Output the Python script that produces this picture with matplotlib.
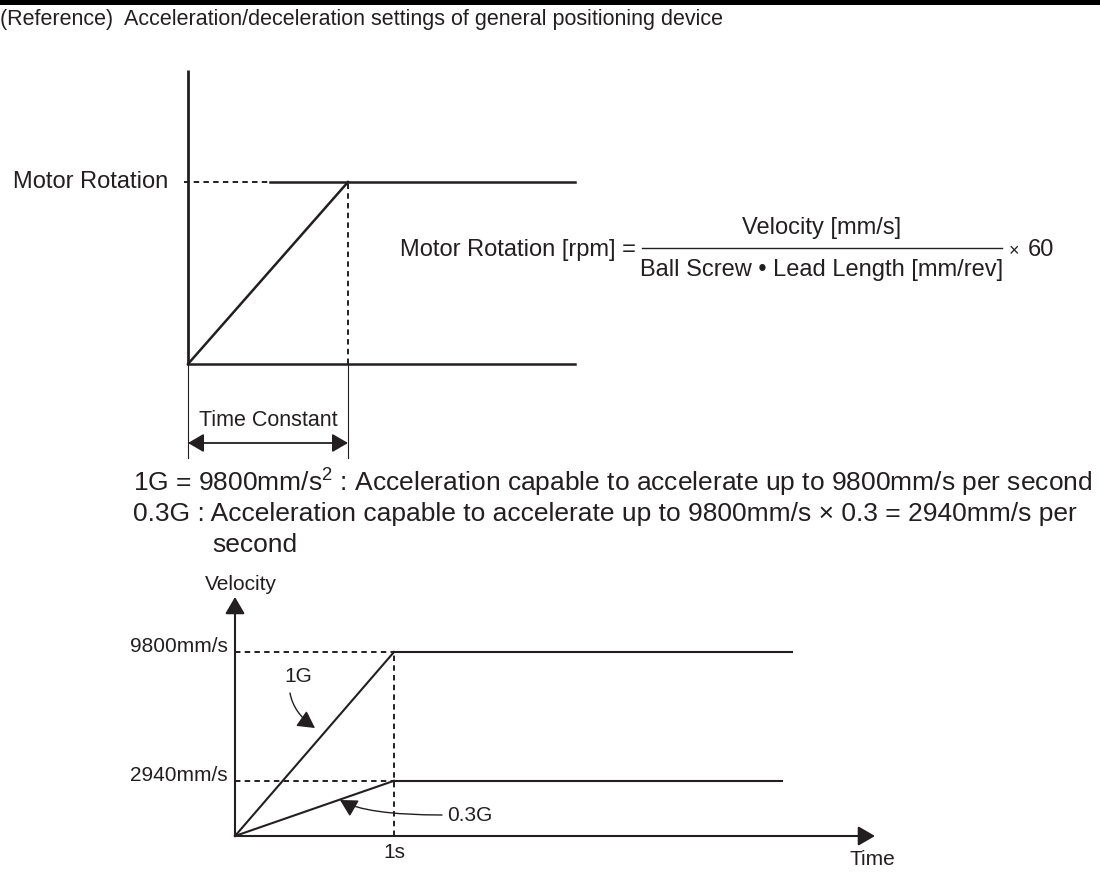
import matplotlib.pyplot as plt


plt.rcParams['font.family'] = ['Liberation Sans', 'DejaVu Sans']
plt.rcParams['mathtext.default'] = 'regular'

W, H = 1100, 894
INK = '#231f20'
DASH = (2.8, 2.2)

TITLE = '(Reference)  Acceleration/deceleration settings of general positioning device'

# Upper diagram: time in time-constant units, speed in motor-rotation units.
RAMP_T = [0.0, 1.0]
RAMP_N = [0.0, 1.0]
HOLD_T = [0.51, 2.42]
BASE_T = [0.0, 2.42]
AXIS_TOP = 1.615
ROTATION_LABEL = 'Motor Rotation'
TIME_CONSTANT_LABEL = 'Time Constant'

FORMULA_LEFT = 'Motor Rotation [rpm] ='
FORMULA_NUM = 'Velocity [mm/s]'
FORMULA_DEN = 'Ball Screw • Lead Length [mm/rev]'
FORMULA_RIGHT = '60'

NOTE_LINES = [
    '1G = 9800mm/s$^2$ : Acceleration capable to accelerate up to 9800mm/s per second',
    '0.3G : Acceleration capable to accelerate up to 9800mm/s × 0.3 = 2940mm/s per',
]
NOTE_TAIL = 'second'

# Lower diagram: time in s, velocity in mm/s.
TIME_S = [0, 1]
V_1G = [0, 9800]
V_03G = [0, 2940]
HOLD_END_1G = 3.5
HOLD_END_03G = 3.44
TIME_AXIS_END = 4.025
VELOCITY_AXIS_END = 12730
SPEED_LEVELS = [9800, 2940]
SPEED_LABELS = ['9800mm/s', '2940mm/s']
TIME_TICK_LABEL = '1s'


def make_axes(fig, origin_px, scale_px):
    """Axes over the whole figure, data origin placed at a given pixel."""
    ax = fig.add_axes([0, 0, 1, 1])
    x0, y0 = origin_px
    sx, sy = scale_px
    ax.set_xlim(-x0 / sx, (W - x0) / sx)
    ax.set_ylim((y0 - H) / sy, y0 / sy)
    ax.axis('off')
    return ax


def arrow(ax, start, end, style, lw, scale, conn='arc3,rad=0'):
    ax.annotate('', xy=end, xytext=start,
                arrowprops=dict(arrowstyle=style, lw=lw, color=INK,
                                shrinkA=0, shrinkB=0, mutation_scale=scale,
                                connectionstyle=conn))


def draw_upper(fig):
    ax = make_axes(fig, (188, 364), (160, 182))
    top = RAMP_N[1]
    ax.plot([0, 0], [0, AXIS_TOP], color=INK, lw=2.0, solid_capstyle='butt')
    ax.plot(BASE_T, [0, 0], color=INK, lw=1.8)
    ax.plot(RAMP_T, RAMP_N, color=INK, lw=1.8)
    ax.plot(HOLD_T, [top, top], color=INK, lw=1.8)
    ax.plot([-0.025, HOLD_T[0]], [top, top], color=INK, lw=1.4, dashes=DASH)
    ax.plot([RAMP_T[1], RAMP_T[1]], [0, top], color=INK, lw=1.4, dashes=DASH)
    for t in RAMP_T:
        ax.plot([t, t], [0, -0.516], color=INK, lw=0.8)
    arrow(ax, (RAMP_T[0], -0.434), (RAMP_T[1], -0.434),
          '<|-|>,head_length=0.6,head_width=0.35', 1.3, 16)
    ax.text(0.5, -0.308, TIME_CONSTANT_LABEL, ha='center', va='center', fontsize=15.5, color=INK)
    ax.text(-0.125, top, ROTATION_LABEL, ha='right', va='center', fontsize=17, color=INK)


def draw_lower(fig):
    ax = make_axes(fig, (235, 836), (159, 184 / 9800))
    arrow(ax, (0, 0), (0, VELOCITY_AXIS_END), '-|>,head_length=0.6,head_width=0.35', 1.5, 17)
    arrow(ax, (0, 0), (TIME_AXIS_END, 0), '-|>,head_length=0.6,head_width=0.35', 1.5, 17)

    ax.plot(TIME_S, V_1G, color=INK, lw=1.5)
    ax.plot([TIME_S[1], HOLD_END_1G], [V_1G[1]] * 2, color=INK, lw=1.5)
    ax.plot(TIME_S, V_03G, color=INK, lw=1.5)
    ax.plot([TIME_S[1], HOLD_END_03G], [V_03G[1]] * 2, color=INK, lw=1.5)

    for level, label in zip(SPEED_LEVELS, SPEED_LABELS):
        ax.plot([0, TIME_S[1]], [level, level], color=INK, lw=1.4, dashes=DASH)
        ax.annotate(label, xy=(0, level), xytext=(-5, 4), textcoords='offset points',
                    ha='right', va='center', fontsize=15, color=INK)
    ax.plot([TIME_S[1]] * 2, [0, max(SPEED_LEVELS)], color=INK, lw=1.4, dashes=DASH)

    ax.annotate(TIME_TICK_LABEL, xy=(TIME_S[1], 0), xytext=(0, -12), textcoords='offset points',
                ha='center', va='center', fontsize=15, color=INK)
    ax.annotate('Velocity', xy=(0, VELOCITY_AXIS_END), xytext=(4, 9), textcoords='offset points',
                ha='center', va='center', fontsize=15, color=INK)
    ax.annotate('Time', xy=(TIME_AXIS_END, 0), xytext=(-2, -17), textcoords='offset points',
                ha='center', va='center', fontsize=15, color=INK)

    ax.text(0.396, 8469, '1G', ha='center', va='center', fontsize=15, color=INK)
    arrow(ax, (0.346, 7616), (0.503, 5752), '-|>,head_length=0.55,head_width=0.3', 1.0, 19,
          'angle3,angleA=-80,angleB=-35')
    ax.text(1.333, 1118, '0.3G', ha='left', va='center', fontsize=15, color=INK)
    arrow(ax, (1.302, 1118), (0.660, 1917), '-|>,head_length=0.55,head_width=0.3', 1.0, 19,
          'angle3,angleA=0,angleB=-30')


def draw_texts(fig):
    ax = fig.add_axes([0, 0, 1, 1])
    ax.set_xlim(0, W)
    ax.set_ylim(H, 0)
    ax.axis('off')

    ax.fill_between([0, W], 0, 5, color='black', lw=0)
    ax.text(0, 20, TITLE, ha='left', va='center', fontsize=15.5, color=INK)

    ax.text(400, 250, FORMULA_LEFT, ha='left', va='center', fontsize=17, color=INK)
    ax.plot([642, 1002], [248, 248], color=INK, lw=1.0)
    ax.text(822, 228, FORMULA_NUM, ha='center', va='center', fontsize=17, color=INK)
    ax.text(822, 270, FORMULA_DEN, ha='center', va='center', fontsize=17, color=INK)
    ax.text(1014, 252, '×', ha='center', va='center', fontsize=13, color=INK)
    ax.text(1028, 250, FORMULA_RIGHT, ha='left', va='center', fontsize=17, color=INK)

    for i, line in enumerate(NOTE_LINES):
        ax.text(133, 483 + 31 * i, line, ha='left', va='center', fontsize=19, color=INK)
    ax.text(212, 545, NOTE_TAIL, ha='left', va='center', fontsize=19, color=INK)


def main():
    fig = plt.figure(figsize=(W / 100, H / 100), dpi=100)
    draw_upper(fig)
    draw_lower(fig)
    draw_texts(fig)
    fig.savefig('out.png', dpi=100)


if __name__ == '__main__':
    main()
